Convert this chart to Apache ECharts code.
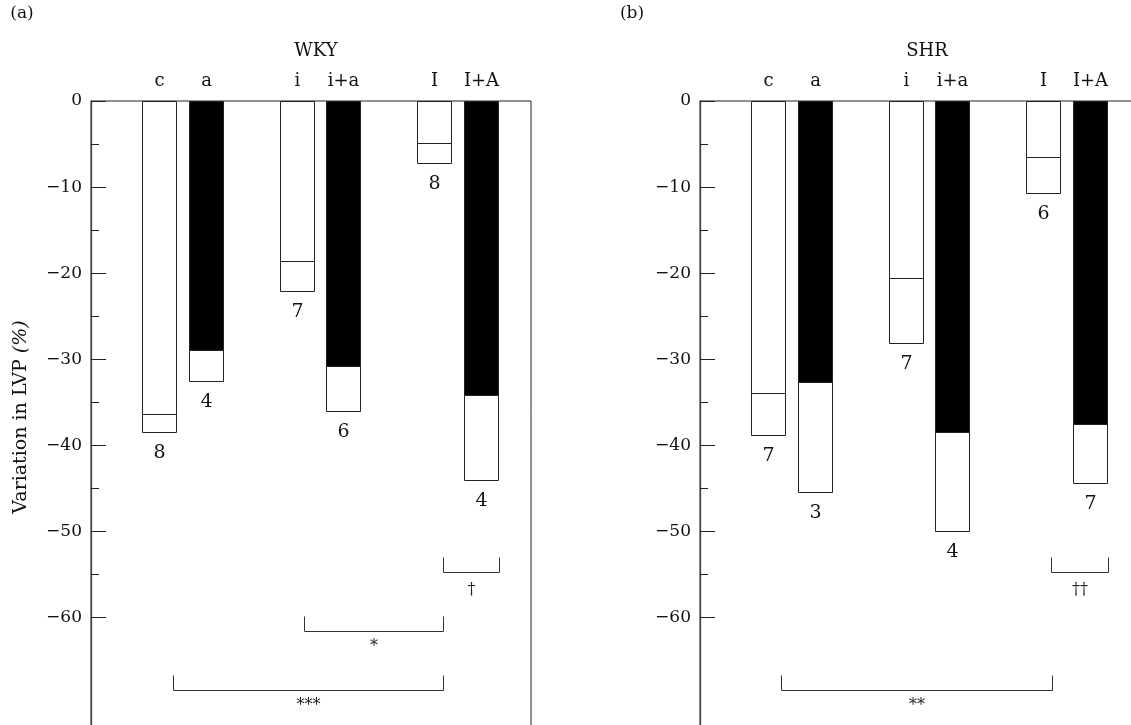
<!DOCTYPE html>
<html><head><meta charset="utf-8">
<script src="https://cdn.jsdelivr.net/npm/echarts@6/dist/echarts.min.js"></script>
<style>html,body{margin:0;padding:0;background:#fff}#c{width:1131px;height:725px}</style>
</head><body><div id="c"></div>
<script>
// ---- data ----
const groups = ['c', 'a', 'i', 'i+a', 'I', 'I+A'];
const wkyMean = [-36.3, -28.9, -18.6, -30.8, -4.9, -34.2];
const wkyLow  = [-38.4, -32.5, -22.1, -36.0, -7.2, -44.0];
const wkyN    = [8, 4, 7, 6, 8, 4];
const shrMean = [-33.9, -32.6, -20.6, -38.4, -6.5, -37.5];
const shrLow  = [-38.8, -45.4, -28.1, -49.9, -10.7, -44.4];
const shrN    = [7, 3, 7, 4, 6, 7];
const yMajorTicks = [0, -10, -20, -30, -40, -50, -60];
const yMinorTicks = [-5, -15, -25, -35, -45, -55];
// brackets: [x start, x end (pair-axis units), bracket level (%), label]
const wkyBrackets = [[-0.073, 1.895, -68.4, '***'], [0.885, 1.895, -61.6, '*'], [1.89, 2.30, -54.7, '†']];
const shrBrackets = [[-0.077, 1.891, -68.4, '**'], [1.886, 2.30, -54.7, '††']];

// ---- layout ----
const FONT = '"DejaVu Serif"';
const PAIR_OFFSET = 0.169, BAR_W = 0.247;
function xPos(i) { return Math.floor(i / 2) + (i % 2 ? PAIR_OFFSET : -PAIR_OFFSET); }
function buildBars(mean, low, n) { return groups.map((g, i) => [xPos(i), mean[i], low[i], n[i], i]); }
const r5 = v => Math.round(v) + 0.5;

function barItem(params, api) {
  const x = api.value(0), mean = api.value(1), low = api.value(2), n = api.value(3), idx = api.value(4);
  const pL = api.coord([x - BAR_W / 2, 0]);
  const pR = api.coord([x + BAR_W / 2, 0]);
  const x0 = r5(pL[0]), x1 = r5(pR[0]), y0 = r5(pL[1]);
  const yM = r5(api.coord([x, mean])[1]);
  const yL = r5(api.coord([x, low])[1]);
  const dark = idx % 2 === 1;
  const cx = (x0 + x1) / 2;
  return { type: 'group', children: [
    { type: 'rect', shape: { x: x0, y: y0, width: x1 - x0, height: yM - y0 }, style: { fill: dark ? '#000' : '#fff', stroke: '#222', lineWidth: 1 } },
    { type: 'rect', shape: { x: x0, y: yM, width: x1 - x0, height: yL - yM }, style: { fill: '#fff', stroke: '#222', lineWidth: 1 } },
    { type: 'text', x: cx, y: yL + 11, style: { text: String(n), font: '19px ' + FONT, fill: '#111', align: 'center', verticalAlign: 'top' } },
    { type: 'text', x: cx, y: y0 - 20, style: { text: groups[idx], font: '18px ' + FONT, fill: '#111', align: 'center', verticalAlign: 'middle' } }
  ] };
}
function bracketItemFor(list) {
  return function (params, api) {
    const b = list[params.dataIndex];
    const p1 = api.coord([api.value(0), api.value(2)]);
    const p2 = api.coord([api.value(1), api.value(2)]);
    const y = r5(p1[1]), xa = r5(p1[0]), xb = r5(p2[0]);
    const dag = b[3].indexOf('†') >= 0;
    return { type: 'group', children: [
      { type: 'polyline', shape: { points: [[xa, y - 15], [xa, y], [xb, y], [xb, y - 15]] }, style: { fill: null, stroke: '#333', lineWidth: 1 } },
      { type: 'text', x: (xa + xb) / 2, y: y + (dag ? 9 : 7), style: { text: b[3], font: '16px ' + FONT, fill: '#222', align: 'center', verticalAlign: 'top' } }
    ] };
  };
}
const minus = v => v < 0 ? '\u2212' + (-v) : String(v);

function yAxesFor(grid) {
  return [
    { type: 'value', gridIndex: grid, position: 'left', min: -80, max: 0, interval: 10,
      axisLine: { show: true, onZero: false, lineStyle: { color: '#444', width: 1.3 } },
      axisTick: { show: true, inside: true, length: 15, customValues: yMajorTicks, lineStyle: { color: '#222' } },
      axisLabel: { show: true, customValues: yMajorTicks, formatter: minus, margin: 9, fontFamily: 'DejaVu Serif', fontSize: 17, color: '#111' },
      splitLine: { show: false } },
    { type: 'value', gridIndex: grid, position: 'left', offset: 0, min: -80, max: 0, interval: 5,
      axisLine: { show: false, onZero: false },
      axisTick: { show: true, inside: true, length: 8, customValues: yMinorTicks, lineStyle: { color: '#222' } },
      axisLabel: { show: false }, splitLine: { show: false } }
  ];
}
function xAxisFor(grid) {
  return { type: 'value', gridIndex: grid, min: -0.667, max: 2.533, show: false, axisLine: { onZero: false } };
}
const gridCommon = { top: 101, width: 440, height: 688.8, show: true, borderColor: '#222', borderWidth: 1, backgroundColor: 'transparent', containLabel: false, outerBoundsMode: 'none' };

const chart = echarts.init(document.getElementById('c'), null, { renderer: 'canvas' });
chart.setOption({
  animation: false,
  backgroundColor: '#fff',
  grid: [Object.assign({ left: 91 }, gridCommon), Object.assign({ left: 700 }, gridCommon)],
  xAxis: [xAxisFor(0), xAxisFor(1)],
  yAxis: yAxesFor(0).concat(yAxesFor(1)),
  graphic: [
    { type: 'text', x: 22, y: 14, style: { text: '(a)', font: '17px ' + FONT, fill: '#111', align: 'center', verticalAlign: 'middle' } },
    { type: 'text', x: 632, y: 14, style: { text: '(b)', font: '17px ' + FONT, fill: '#111', align: 'center', verticalAlign: 'middle' } },
    { type: 'text', x: 316, y: 51, style: { text: 'WKY', font: '18px ' + FONT, fill: '#111', align: 'center', verticalAlign: 'middle' } },
    { type: 'text', x: 927, y: 51, style: { text: 'SHR', font: '18px ' + FONT, fill: '#111', align: 'center', verticalAlign: 'middle' } },
    { type: 'text', x: 21, y: 417, rotation: Math.PI / 2,
      style: { text: '{n|Variation in LVP }{i|(%)}', align: 'center', verticalAlign: 'middle',
        rich: { n: { font: '19px ' + FONT, fill: '#111' }, i: { font: 'italic 19px ' + FONT, fill: '#111' } } } }
  ],
  series: [
    { type: 'custom', xAxisIndex: 0, yAxisIndex: 0, renderItem: barItem, data: buildBars(wkyMean, wkyLow, wkyN), silent: true, clip: false },
    { type: 'custom', xAxisIndex: 0, yAxisIndex: 0, renderItem: bracketItemFor(wkyBrackets), data: wkyBrackets.map(b => [b[0], b[1], b[2]]), silent: true, clip: false },
    { type: 'custom', xAxisIndex: 1, yAxisIndex: 2, renderItem: barItem, data: buildBars(shrMean, shrLow, shrN), silent: true, clip: false },
    { type: 'custom', xAxisIndex: 1, yAxisIndex: 2, renderItem: bracketItemFor(shrBrackets), data: shrBrackets.map(b => [b[0], b[1], b[2]]), silent: true, clip: false }
  ]
});
</script></body></html>
